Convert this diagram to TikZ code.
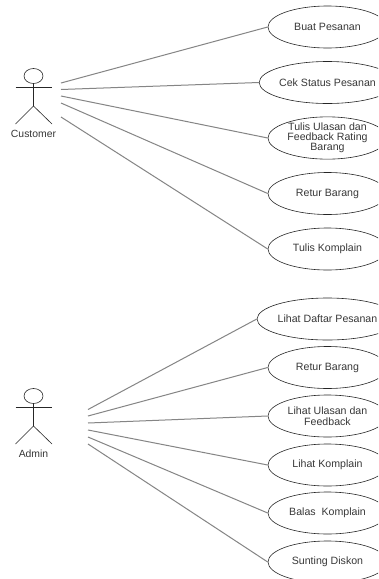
\documentclass[tikz,border=0pt]{standalone}
\usepackage{fontspec}
\setmainfont{Liberation Sans}
\usetikzlibrary{shapes.geometric}
\definecolor{linkgray}{gray}{0.52}
\definecolor{inkgray}{gray}{0.22}
\tikzset{
  usecase/.style={draw=black!85,line width=0.6pt,ellipse,minimum width=119pt,minimum height=42pt,inner sep=0pt,
    text=inkgray,align=center,font=\fontsize{10.6}{10}\selectfont},
  actorhead/.style={draw=black!85,line width=0.6pt,ellipse,minimum width=19pt,minimum height=15pt,inner sep=0pt},
  actorline/.style={draw=black!85,line width=0.6pt},
  actorlabel/.style={text=inkgray,inner sep=0pt,font=\fontsize{10.4}{12}\selectfont},
  link/.style={draw=linkgray,line width=1pt}
}
\begin{document}
\begin{tikzpicture}[x=1pt,y=-1pt]
\useasboundingbox (0,0) rectangle (378,579);
\clip (0,0) rectangle (378,579);
\fill[white] (0,0) rectangle (378,579);
% use cases
\node[usecase] (u1) at (327.5,27) {Buat Pesanan};
\node[usecase] (u2) at (327.5,82.5) {Cek Status Pesanan};
\node[usecase] (u3) at (327.5,138) {Tulis Ulasan dan\\Feedback Rating\\Barang};
\node[usecase] (u4) at (327.5,193.5) {Retur Barang};
\node[usecase] (u5) at (327.5,249) {Tulis Komplain};
\node[usecase] (a1) at (327.5,319) {Lihat Daftar Pesanan};
\node[usecase] (a2) at (327.5,367.5) {Retur Barang};
\node[usecase] (a3) at (327.5,416) {Lihat Ulasan dan\\[1pt]Feedback};
\node[usecase] (a4) at (327.5,465) {Lihat Komplain};
\node[usecase] (a5) at (327.5,513) {Balas\ \ Komplain};
\node[usecase] (a6) at (327.5,562) {Sunting Diskon};
% customer actor
\node[actorhead] (chead) at (33.5,76) {};
\coordinate (chip) at (33.5,106);
\coordinate (carmL) at (15.5,87);
\coordinate (carmR) at (52,87);
\coordinate (clegL) at (15.5,124);
\coordinate (clegR) at (52,124);
\draw[actorline] (chead.south) -- (chip);
\draw[actorline] (carmL) -- (carmR);
\draw[actorline] (clegL) -- (chip) -- (clegR);
\node[actorlabel] (clabel) at (33.5,134) {Customer};
% admin actor
\node[actorhead] (ahead) at (33.5,396) {};
\coordinate (ahip) at (33.5,426);
\coordinate (aarmL) at (15.5,407);
\coordinate (aarmR) at (52,407);
\coordinate (alegL) at (15.5,444);
\coordinate (alegR) at (52,444);
\draw[actorline] (ahead.south) -- (ahip);
\draw[actorline] (aarmL) -- (aarmR);
\draw[actorline] (alegL) -- (ahip) -- (alegR);
\node[actorlabel] (alabel) at (33.5,453.5) {Admin};
% free ends of connectors
\coordinate (c1) at (61,83);
\coordinate (c2) at (61,89.5);
\coordinate (c3) at (61,96);
\coordinate (c4) at (61,103);
\coordinate (c5) at (61,117);
\coordinate (d1) at (88,409.5);
\coordinate (d2) at (88,416);
\coordinate (d3) at (88,423);
\coordinate (d4) at (88,430);
\coordinate (d5) at (88,437);
\coordinate (d6) at (88,444);
% connectors
\draw[link] (c1) -- (u1.west);
\draw[link] (c2) -- (u2.west);
\draw[link] (c3) -- (u3.west);
\draw[link] (c4) -- (u4.west);
\draw[link] (c5) -- (u5.west);
\draw[link] (d1) -- (a1.west);
\draw[link] (d2) -- (a2.west);
\draw[link] (d3) -- (a3.west);
\draw[link] (d4) -- (a4.west);
\draw[link] (d5) -- (a5.west);
\draw[link] (d6) -- (a6.west);
\end{tikzpicture}
\end{document}
